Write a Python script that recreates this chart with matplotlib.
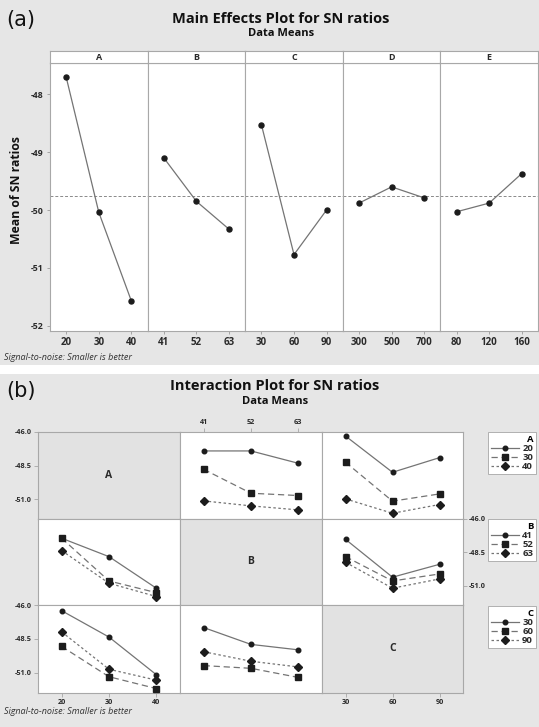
import matplotlib
matplotlib.use('Agg')
import numpy as np
import matplotlib.pyplot as plt
from matplotlib.patches import Rectangle
from matplotlib.lines import Line2D

plt.rcParams['font.family'] = ['Open Sans', 'DejaVu Sans']

# ---------------- data ----------------
factor_names = ['A', 'B', 'C', 'D', 'E']
levels_A = [20, 30, 40]
levels_B = [41, 52, 63]
levels_C = [30, 60, 90]
levels_D = [300, 500, 700]
levels_E = [80, 120, 160]

me_A = [-47.71, -50.04, -51.57]
me_B = [-49.10, -49.85, -50.33]
me_C = [-48.53, -50.77, -50.00]
me_D = [-49.88, -49.60, -49.79]
me_E = [-50.03, -49.88, -49.37]

# interaction means: rows = levels of legend factor, columns = levels of x factor
AB = [[-47.41, -47.41, -48.33],   # A=20 vs B
      [-48.78, -50.56, -50.73],   # A=30
      [-51.13, -51.50, -51.80]]   # A=40
AC = [[-46.30, -49.00, -47.91],
      [-48.25, -51.15, -50.61],
      [-50.98, -52.05, -51.40]]
BA = [[-47.47, -48.84, -51.19],   # B=41 vs A
      [-47.47, -50.65, -51.52],   # B=52
      [-48.39, -50.82, -51.81]]   # B=63
BC = [[-47.55, -50.37, -49.41],
      [-48.84, -50.65, -50.13],
      [-49.26, -51.19, -50.50]]
CA = [[-46.42, -48.36, -51.13],   # C=30 vs A
      [-49.05, -51.28, -52.15],   # C=60
      [-47.98, -50.73, -51.53]]   # C=90
CB = [[-47.66, -48.90, -49.30],
      [-50.46, -50.66, -51.33],
      [-49.44, -50.14, -50.56]]

main_yticks = [-52, -51, -50, -49, -48]
inter_yticks = [-51.0, -48.5, -46.0]

# ---------------- figure ----------------
W, H = 539, 727
fig = plt.figure(figsize=(W / 100, H / 100), dpi=100, facecolor='white')


def px_axes(x0, y0, x1, y1):
    return fig.add_axes([x0 / W, 1 - y1 / H, (x1 - x0) / W, (y1 - y0) / H])


BG = '#e6e6e6'
fig.patches.append(Rectangle((0, 1 - 365 / H), 1, 365 / H, transform=fig.transFigure,
                             facecolor=BG, edgecolor='none', zorder=-10))
fig.patches.append(Rectangle((0, 0), 1, 1 - 374 / H, transform=fig.transFigure,
                             facecolor=BG, edgecolor='none', zorder=-10))

SPINE = '#a8a8a8'
TXT = '#2a2a2a'
LINE = '#747474'
MK = '#1c1c1c'


def fx(x):
    return x / W


def fy(y):
    return 1 - y / H


# ---------------- panel (a) ----------------
fig.text(fx(6), fy(20), '(a)', fontsize=15, family=['DejaVu Sans'], va='center', ha='left', color='#111')
fig.text(fx(281), fy(19), 'Main Effects Plot for SN ratios', fontsize=10.5, fontweight='bold',
         ha='center', va='center', color='#111')
fig.text(fx(281), fy(34), 'Data Means', fontsize=8, fontweight='bold', ha='center', va='center', color='#111')
fig.text(fx(17), fy(190), 'Mean of SN ratios', fontsize=8.8, fontweight='bold', rotation=90,
         ha='center', va='center', color='#111')
fig.text(fx(4), fy(357), 'Signal-to-noise: Smaller is better', fontsize=6.5, style='italic',
         ha='left', va='center', color='#333')

all_levels = [levels_A, levels_B, levels_C, levels_D, levels_E]
all_means = [me_A, me_B, me_C, me_D, me_E]
grand_mean = float(np.mean(np.concatenate(all_means)))
xb = [50, 147.6, 245.2, 342.8, 440.4, 538]
for i, name in enumerate(factor_names):
    ax = px_axes(xb[i], 63, xb[i + 1], 331)
    ax.set_facecolor('white')
    xs = np.arange(len(all_levels[i]))
    ax.axhline(grand_mean, color='#8a8a8a', lw=0.7, ls=(0, (3, 2)), zorder=1)
    ax.plot(xs, all_means[i], color=LINE, lw=0.9, marker='o', ms=3.6, mfc=MK, mec=MK, zorder=3)
    ax.set_xlim(-0.5, 2.5)
    ax.set_ylim(-52.09, -47.46)
    ax.set_xticks(xs)
    ax.set_xticklabels([str(v) for v in all_levels[i]], fontsize=7, fontweight='bold', color=TXT)
    if i == 0:
        ax.set_yticks(main_yticks)
        ax.set_yticklabels([str(v) for v in main_yticks], fontsize=6.3, fontweight='bold', color=TXT)
    else:
        ax.set_yticks([])
    ax.tick_params(length=2.5, width=0.6, color='#999999', pad=2)
    for s in ax.spines.values():
        s.set_color(SPINE)
        s.set_linewidth(0.8)
    st = px_axes(xb[i], 51, xb[i + 1], 63)
    st.set_facecolor('white')
    st.set_xticks([])
    st.set_yticks([])
    for s in st.spines.values():
        s.set_color(SPINE)
        s.set_linewidth(0.8)
    st.text(0.5, 0.45, name, transform=st.transAxes, ha='center', va='center', fontsize=6.5,
            fontweight='bold', color=TXT)

# ---------------- panel (b) ----------------
fig.text(fx(6), fy(391), '(b)', fontsize=15, family=['DejaVu Sans'], va='center', ha='left', color='#111')
fig.text(fx(275), fy(386), 'Interaction Plot for SN ratios', fontsize=10.5, fontweight='bold',
         ha='center', va='center', color='#111')
fig.text(fx(275), fy(401), 'Data Means', fontsize=8, fontweight='bold', ha='center', va='center', color='#111')
fig.text(fx(4), fy(711), 'Signal-to-noise: Smaller is better', fontsize=6.5, style='italic',
         ha='left', va='center', color='#333')

inter_factors = ['A', 'B', 'C']
inter_levels = [levels_A, levels_B, levels_C]
inter = {(0, 1): AB, (0, 2): AC, (1, 0): BA, (1, 2): BC, (2, 0): CA, (2, 1): CB}
styles = [dict(ls='-', marker='o', ms=3.3),
          dict(ls=(0, (5, 3)), marker='s', ms=4.3),
          dict(ls=(0, (2, 2)), marker='D', ms=3.8)]
cx = [38, 180, 322, 463]
ry = [432, 518.5, 605, 692.5]
tick_lbl = dict(fontsize=5.2, fontweight='bold', color=TXT)

for r in range(3):
    for c in range(3):
        ax = px_axes(cx[c], ry[r], cx[c + 1], ry[r + 1])
        ax.set_xlim(-0.5, 2.5)
        ax.set_ylim(-52.44, -46.0)
        xs = np.arange(3)
        if r == c:
            ax.set_facecolor('#e2e2e2')
            ax.text(0.5, 0.5, inter_factors[r], transform=ax.transAxes, ha='center', va='center',
                    fontsize=7.5, fontweight='bold', color=TXT)
        else:
            ax.set_facecolor('white')
            data = inter[(r, c)]
            for k in range(3):
                stl = styles[k]
                ax.plot(xs, data[k], color=LINE, lw=0.9, ls=stl['ls'], marker=stl['marker'],
                        ms=stl['ms'], mfc=MK, mec=MK, zorder=3)
        ax.set_xticks([])
        ax.set_yticks([])
        # axis ticks (Minitab alternating layout)
        if c == 0 and r in (0, 2):
            ax.set_yticks(inter_yticks)
            ax.set_yticklabels(['%.1f' % v for v in inter_yticks], **tick_lbl)
        if c == 2 and r == 1:
            ax.yaxis.tick_right()
            ax.set_yticks(inter_yticks)
            ax.set_yticklabels(['%.1f' % v for v in inter_yticks], **tick_lbl)
        if r == 0 and c == 1:
            ax.xaxis.tick_top()
            ax.set_xticks(xs)
            ax.set_xticklabels([str(v) for v in inter_levels[c]], **tick_lbl)
        if r == 2 and c in (0, 2):
            ax.set_xticks(xs)
            ax.set_xticklabels([str(v) for v in inter_levels[c]], **tick_lbl)
        ax.tick_params(length=3, width=0.5, color='#999999', pad=1.5)
        for s in ax.spines.values():
            s.set_color(SPINE)
            s.set_linewidth(0.8)

# legends
leg_tops = [432, 519, 606]
for k, fname in enumerate(inter_factors):
    handles = [Line2D([], [], color=LINE, lw=0.9, ls=styles[j]['ls'], marker=styles[j]['marker'],
                      ms=styles[j]['ms'], mfc=MK, mec=MK) for j in range(3)]
    labels = [str(v) for v in inter_levels[k]]
    leg = fig.legend(handles, labels, loc='upper right', bbox_to_anchor=(fx(536), fy(leg_tops[k])),
                     title=fname, alignment='right', prop={'weight': 'bold', 'size': 6.8},
                     title_fontproperties={'weight': 'bold', 'size': 6.8}, numpoints=1,
                     frameon=True, fancybox=False, edgecolor='#b0b0b0', framealpha=1,
                     handlelength=3.0, handletextpad=0.3, labelspacing=0.0, borderpad=0.3,
                     borderaxespad=0)
    leg.get_frame().set_linewidth(0.7)
    for t in leg.get_texts():
        t.set_color(TXT)

fig.savefig('out.png', dpi=100, facecolor='white')
